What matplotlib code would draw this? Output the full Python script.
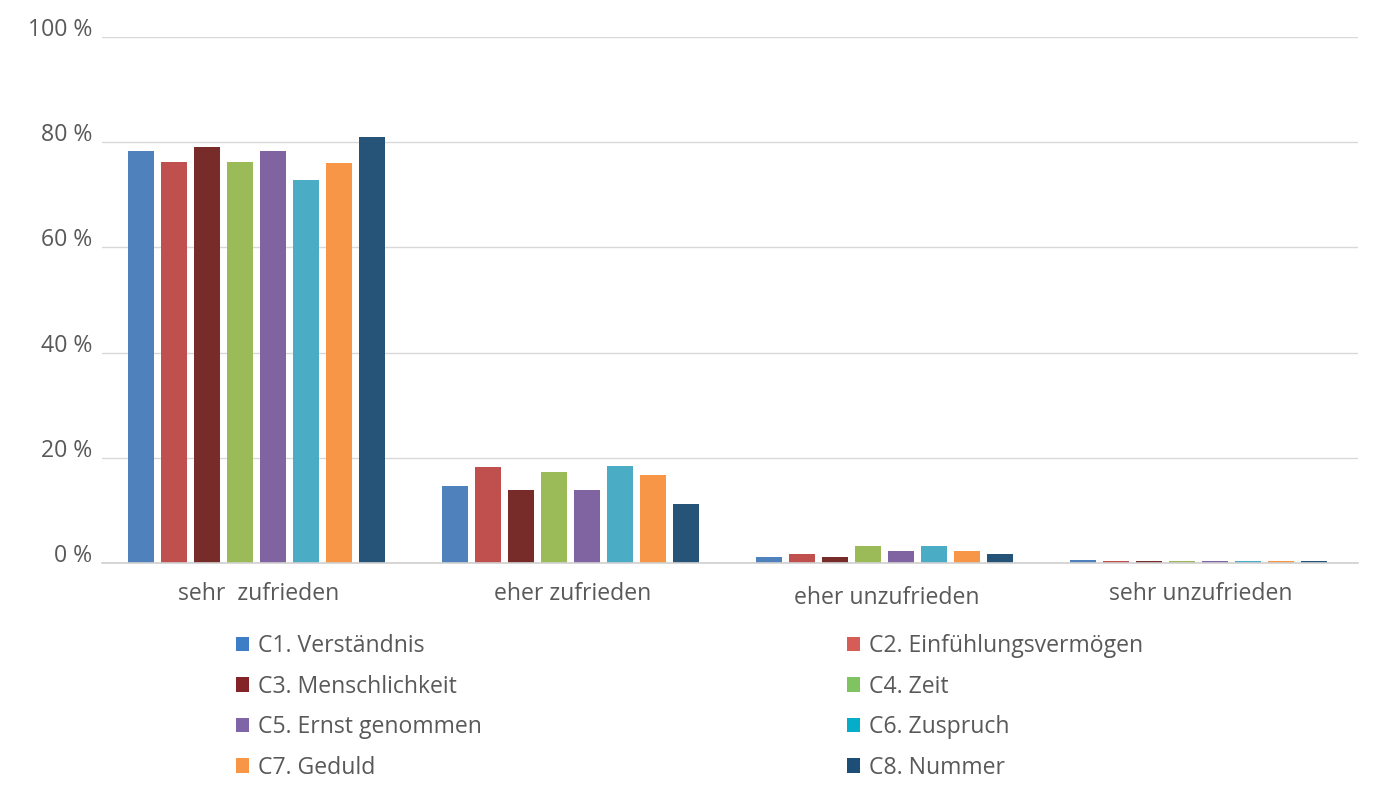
import matplotlib
matplotlib.use("Agg")
import matplotlib.pyplot as plt
import matplotlib.transforms as mtransforms
from matplotlib.patches import Patch
import numpy as np

categories = ["sehr  zufrieden", "eher zufrieden", "eher unzufrieden", "sehr unzufrieden"]
series_names = ["C1. Verständnis", "C2. Einfühlungsvermögen", "C3. Menschlichkeit", "C4. Zeit",
                "C5. Ernst genommen", "C6. Zuspruch", "C7. Geduld", "C8. Nummer"]
c1 = [78.3, 14.6, 1.1, 0.5]
c2 = [76.2, 18.3, 1.7, 0.3]
c3 = [79.1, 13.9, 1.1, 0.3]
c4 = [76.2, 17.3, 3.2, 0.3]
c5 = [78.3, 13.9, 2.3, 0.3]
c6 = [72.8, 18.4, 3.2, 0.3]
c7 = [76.0, 16.7, 2.3, 0.3]
c8 = [81.0, 11.2, 1.7, 0.4]
series = [c1, c2, c3, c4, c5, c6, c7, c8]
yticks = [0, 20, 40, 60, 80, 100]
ytick_labels = ["0 %", "20 %", "40 %", "60 %", "80 %", "100 %"]

bar_colors = ["#4f81bd", "#c0504d", "#772c2a", "#9bbb59", "#8064a2", "#4bacc6", "#f79646", "#265479"]
legend_colors = ["#3d7ec6", "#d65c58", "#842428", "#80c462", "#8064a8", "#05adc8", "#f79646", "#1c4e78"]

FONT = "Open Sans"
TXT = "#595959"
FS = 16.6

fig = plt.figure(figsize=(13.74, 7.92), dpi=100)
ax = fig.add_axes([102/1374, 1-563/792, (1358-102)/1374, (563-37)/792])

x = np.arange(len(categories))
step = 0.105
width = 0.082
for i, vals in enumerate(series):
    ax.bar(x + (i - 3.5) * step - 0.008, vals, width=width, color=bar_colors[i], zorder=3)

ax.set_xlim(-0.5, len(categories) - 0.5)
ax.set_ylim(0, 100)
ax.set_yticks(yticks)
ax.set_yticklabels(ytick_labels, fontfamily=FONT, fontsize=FS, color=TXT)
ax.set_xticks(x)
ax.set_xticklabels(categories, fontfamily=FONT, fontsize=FS, color=TXT)
ax.tick_params(axis="both", length=0)
ax.tick_params(axis="y", pad=7)
ax.tick_params(axis="x", pad=14)
yshift = mtransforms.ScaledTranslation(0, 10/100, fig.dpi_scale_trans)
for lbl in ax.get_yticklabels():
    lbl.set_transform(lbl.get_transform() + yshift)
xl = ax.get_xticklabels()[2]
xl.set_transform(xl.get_transform() + mtransforms.ScaledTranslation(0, -4/100, fig.dpi_scale_trans))
ax.grid(axis="y", color="#d9d9d9", linewidth=1, zorder=0)
for s in ["top", "right", "left"]:
    ax.spines[s].set_visible(False)
ax.spines["bottom"].set_color("#d0d0d0")
ax.spines["bottom"].set_linewidth(1.2)
ax.spines["bottom"].set_zorder(4)

def make_leg(idxs, xpos):
    handles = [Patch(facecolor=legend_colors[i], edgecolor="none") for i in idxs]
    labels = [series_names[i] for i in idxs]
    leg = fig.legend(handles, labels, loc="upper left", bbox_to_anchor=(xpos, 1 - 634/792),
                     frameon=False, prop={"family": FONT, "size": FS},
                     handlelength=0.58, handleheight=0.58, handletextpad=0.38,
                     labelspacing=0.72, borderaxespad=0, borderpad=0)
    for t in leg.get_texts():
        t.set_color(TXT)
    return leg

make_leg([0, 2, 4, 6], 236/1374)
make_leg([1, 3, 5, 7], 847/1374)

fig.savefig("out.png", dpi=100, facecolor="white")
